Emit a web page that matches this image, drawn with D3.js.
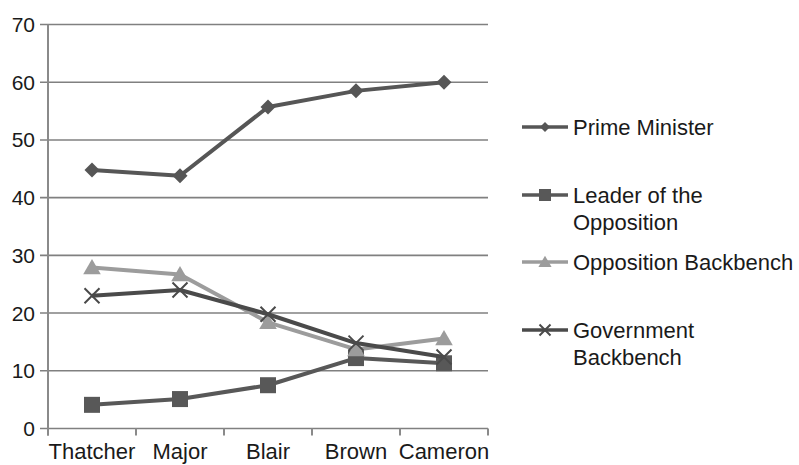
<!DOCTYPE html>
<html><head><meta charset="utf-8">
<script src="https://cdn.jsdelivr.net/npm/d3@7"></script>
<style>body{margin:0;background:#fff}svg{display:block}text{font-family:"Liberation Sans",Arial,sans-serif;fill:#1a1a1a}</style>
</head><body>
<svg id="c" width="799" height="465"></svg>
<script>
const categories = ["Thatcher","Major","Blair","Brown","Cameron"];
const primeMinister = [44.8, 43.8, 55.7, 58.5, 60.0];
const leaderOpposition = [4.1, 5.1, 7.5, 12.2, 11.3];
const oppositionBackbench = [27.9, 26.7, 18.4, 13.7, 15.6];
const governmentBackbench = [23.0, 24.0, 19.8, 14.8, 12.4];
const yTicks = [0,10,20,30,40,50,60,70];
const seriesNames = [["Prime Minister"],["Leader of the","Opposition"],["Opposition Backbench"],["Government","Backbench"]];

const series = [
  {name: seriesNames[0], values: primeMinister, color:"#565656", marker:"diamond"},
  {name: seriesNames[1], values: leaderOpposition, color:"#585858", marker:"square"},
  {name: seriesNames[2], values: oppositionBackbench, color:"#9c9c9c", marker:"triangle"},
  {name: seriesNames[3], values: governmentBackbench, color:"#4a4a4a", marker:"x"}
];

const svg = d3.select("#c");
const x = d3.scaleBand().domain(categories).range([48, 488]);
const y = d3.scaleLinear().domain([0,70]).range([428.5, 24.5]);

// gridlines
svg.append("g").selectAll("line").data(yTicks).join("line")
  .attr("x1",40).attr("x2",488).attr("y1",d=>y(d)).attr("y2",d=>y(d))
  .attr("stroke","#808080").attr("stroke-width",1.6);
// y axis line
svg.append("line").attr("x1",48).attr("x2",48).attr("y1",y(70)).attr("y2",y(0)+7)
  .attr("stroke","#8a8a8a").attr("stroke-width",2);
// x ticks
const xt = categories.map(c=>x(c)).concat([x.range()[1]]);
svg.append("g").selectAll("line").data(xt).join("line")
  .attr("x1",d=>d).attr("x2",d=>d).attr("y1",y(0)).attr("y2",y(0)+7)
  .attr("stroke","#8a8a8a").attr("stroke-width",2);
// y labels
svg.append("g").selectAll("text").data(yTicks).join("text")
  .attr("x",35).attr("y",d=>y(d)).attr("dy","0.36em").attr("text-anchor","end")
  .attr("font-size",21).text(d=>d);
// x labels
svg.append("g").selectAll("text").data(categories).join("text")
  .attr("x",d=>x(d)+x.bandwidth()/2).attr("y",459).attr("text-anchor","middle")
  .attr("font-size",22).text(d=>d);

function marker(g, type, cx, cy, s, color){
  if(type==="diamond"){
    g.append("path").attr("d",`M${cx},${cy-s}L${cx+s},${cy}L${cx},${cy+s}L${cx-s},${cy}Z`).attr("fill",color);
  } else if(type==="square"){
    g.append("rect").attr("x",cx-s).attr("y",cy-s).attr("width",2*s).attr("height",2*s).attr("fill",color);
  } else if(type==="triangle"){
    g.append("path").attr("d",`M${cx},${cy-s*1.05}L${cx+s*1.1},${cy+s*0.85}L${cx-s*1.1},${cy+s*0.85}Z`).attr("fill",color);
  } else {
    g.append("path").attr("d",`M${cx-s},${cy-s}L${cx+s},${cy+s}M${cx-s},${cy+s}L${cx+s},${cy-s}`)
      .attr("stroke",color).attr("stroke-width",2).attr("fill","none");
  }
}

const line = d3.line().x((d,i)=>x(categories[i])+x.bandwidth()/2).y(d=>y(d));
const sizes = {diamond:7.5, square:8, triangle:8, x:7.5};
series.forEach(s=>{
  const g = svg.append("g");
  g.append("path").attr("d",line(s.values)).attr("fill","none").attr("stroke",s.color).attr("stroke-width",4).attr("stroke-linejoin","round");
  s.values.forEach((v,i)=>marker(g,s.marker,x(categories[i])+x.bandwidth()/2,y(v),sizes[s.marker],s.color));
});

// legend
const legY = [127, 195, 262, 330];
series.forEach((s,i)=>{
  const g = svg.append("g");
  const ly = legY[i];
  g.append("line").attr("x1",522).attr("x2",568).attr("y1",ly).attr("y2",ly).attr("stroke",s.color).attr("stroke-width",3.5);
  const ls = {diamond:5, square:6, triangle:6, x:5.5}[s.marker];
  marker(g,s.marker,545,ly,ls,s.color);
  s.name.forEach((t,j)=>{
    g.append("text").attr("x",573).attr("y",ly+j*26.7).attr("dy","0.36em").attr("font-size",22).text(t);
  });
});
</script>
</body></html>
